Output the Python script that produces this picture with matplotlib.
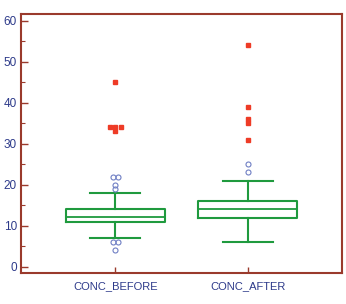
import numpy as np
import matplotlib
matplotlib.use('Agg')
import matplotlib.pyplot as plt
from collections import Counter

# values
categories = ['CONC_BEFORE', 'CONC_AFTER']
q1 = [11.0, 12.0]
median = [12.2, 14.0]
q3 = [14.0, 16.0]
whis_lo = [7.0, 6.0]
whis_hi = [18.0, 21.0]
outside = [[22, 22, 20, 19, 6, 6, 4], [25, 23]]          # open circles
far_out = [[45, 34, 34, 34, 33], [54, 39, 36, 35, 31]]    # red squares

spine_col = '#9a3a2c'
text_col = '#2d3a8a'
box_col = '#1f9a3e'


def dodge(values, step=0.04):
    """spread tied values sideways so they do not overlap"""
    counts = Counter(values)
    seen = Counter()
    offs = []
    for v in values:
        n = counts[v]
        offs.append((seen[v] - (n - 1) / 2) * step)
        seen[v] += 1
    return np.array(offs)


plt.rcParams['font.family'] = ['Liberation Sans', 'DejaVu Sans']

fig = plt.figure(figsize=(3.46, 3.04), dpi=100)
ax = fig.add_axes([0.061, 0.102, 0.927, 0.852])

stats = []
for i in range(len(categories)):
    stats.append({'q1': q1[i], 'med': median[i], 'q3': q3[i],
                  'whislo': whis_lo[i], 'whishi': whis_hi[i],
                  'fliers': [], 'label': categories[i]})

ax.bxp(stats, positions=[1, 2], widths=0.75, showfliers=False,
       boxprops=dict(color=box_col, linewidth=1.5),
       whiskerprops=dict(color=box_col, linewidth=1.5),
       capprops=dict(color=box_col, linewidth=1.5),
       medianprops=dict(color=box_col, linewidth=1.3),
       capwidths=0.375)

for i in range(len(categories)):
    vals = outside[i]
    ax.plot(i + 1 + dodge(vals), vals, 'o', ms=3.6, mfc='none',
            mec='#6f7fc4', mew=0.8)
    vals = far_out[i]
    ax.plot(i + 1 + dodge(vals), vals, 's', ms=3.2, mfc='#ee3b26',
            mec='#ee3b26')

ax.set_xlim(0.29, 2.71)
ax.set_ylim(-1.5, 61.6)
ax.set_yticks(np.arange(0, 61, 10))
ax.set_yticks(np.arange(0, 61, 5), minor=True)
ax.set_xticks([1, 2])
ax.set_xticklabels(categories)

for s in ax.spines.values():
    s.set_color(spine_col)
    s.set_linewidth(1.5)

ax.tick_params(axis='both', which='both', direction='in', color=spine_col,
               labelcolor=text_col)
ax.tick_params(axis='y', which='major', length=5, width=1, pad=3, labelsize=8.5)
ax.tick_params(axis='y', which='minor', length=3, width=0.8)
ax.tick_params(axis='x', which='major', length=4, width=1, pad=6, labelsize=8)

fig.savefig('out.png', dpi=100)
